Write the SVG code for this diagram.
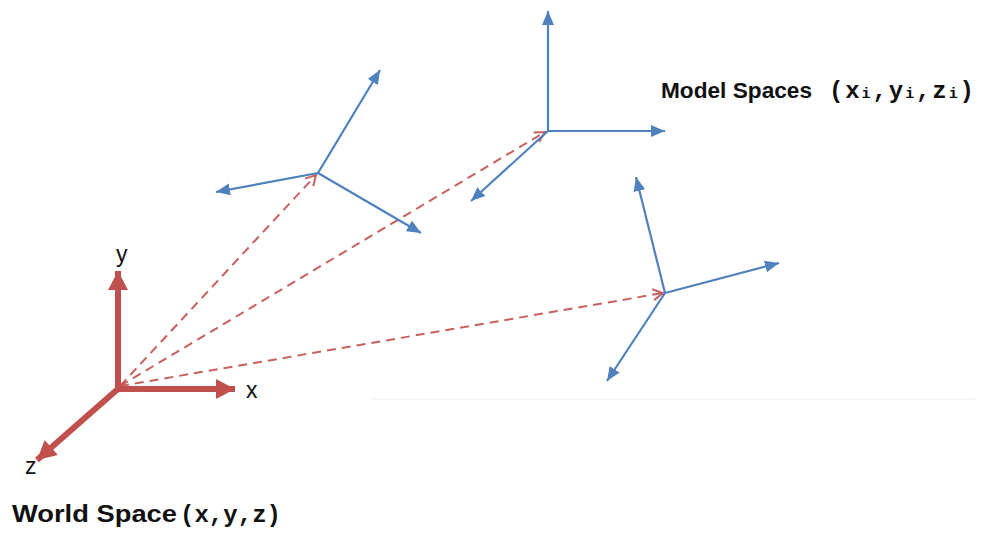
<svg xmlns="http://www.w3.org/2000/svg" width="983" height="555" viewBox="0 0 983 555">
<style>
.world{stroke:#c0504d;stroke-width:6;fill:none;stroke-linecap:butt}
.dash{stroke:#c0504d;stroke-width:2;fill:none;stroke-dasharray:9,6;opacity:0.9}
.blue{stroke:#4f81bd;stroke-width:2.2;fill:none}
.ax{font-family:"Liberation Sans",Arial,sans-serif;font-size:23px;fill:#111}
.lbl{font-family:"Liberation Sans",Arial,sans-serif;font-weight:bold;fill:#111}
.mono{font-family:"Liberation Mono","Courier New",monospace;font-weight:bold}
</style>
<defs>
<marker id="redHead" markerUnits="userSpaceOnUse" markerWidth="24" markerHeight="24" viewBox="0 0 24 24" refX="19" refY="12" orient="auto">
<path d="M0,2 L19,12 L0,22 Z" fill="#c0504d"/>
</marker>
<marker id="blueHead" markerUnits="userSpaceOnUse" markerWidth="16" markerHeight="16" viewBox="0 0 16 16" refX="14" refY="8" orient="auto">
<path d="M0,2 L14,8 L0,14 Z" fill="#4f81bd"/>
</marker>
<marker id="openHead" markerUnits="userSpaceOnUse" markerWidth="14" markerHeight="14" viewBox="0 0 14 14" refX="12" refY="7" orient="auto">
<path d="M2,1.5 L12,7 L2,12.5" fill="none" stroke="#c0504d" stroke-width="2"/>
</marker>
</defs>
<rect width="983" height="555" fill="#ffffff"/>
<line x1="372" y1="399" x2="975" y2="399" stroke="#f6f5ee" stroke-width="1.5"/>

<g id="connectors">
<line class="dash" x1="120" y1="386" x2="316" y2="175" marker-end="url(#openHead)"/>
<line class="dash" x1="120" y1="386" x2="545" y2="132" marker-end="url(#openHead)"/>
<line class="dash" x1="120" y1="386" x2="663" y2="293" marker-end="url(#openHead)"/>
</g>

<g id="world-frame">
<line class="world" x1="118" y1="389" x2="118" y2="271" marker-end="url(#redHead)"/>
<line class="world" x1="115" y1="389" x2="235" y2="389" marker-end="url(#redHead)"/>
<line class="world" x1="119" y1="388" x2="37" y2="460" marker-end="url(#redHead)"/>
<text class="ax" x="116" y="262">y</text>
<text class="ax" x="246" y="398">x</text>
<text class="ax" x="25" y="474">z</text>
</g>

<g id="model-frame-1">
<line class="blue" x1="318" y1="173" x2="380" y2="70" marker-end="url(#blueHead)"/>
<line class="blue" x1="318" y1="173" x2="216" y2="192" marker-end="url(#blueHead)"/>
<line class="blue" x1="318" y1="173" x2="421" y2="233" marker-end="url(#blueHead)"/>
</g>

<g id="model-frame-2">
<line class="blue" x1="548" y1="131" x2="548" y2="11" marker-end="url(#blueHead)"/>
<line class="blue" x1="548" y1="131" x2="665" y2="131" marker-end="url(#blueHead)"/>
<line class="blue" x1="548" y1="131" x2="471" y2="201" marker-end="url(#blueHead)"/>
</g>

<g id="model-frame-3">
<line class="blue" x1="665" y1="293" x2="636" y2="177" marker-end="url(#blueHead)"/>
<line class="blue" x1="665" y1="293" x2="779" y2="263" marker-end="url(#blueHead)"/>
<line class="blue" x1="665" y1="293" x2="607" y2="381" marker-end="url(#blueHead)"/>
</g>

<g id="model-label">
<text class="lbl" x="661" y="98" font-size="22" textLength="151" lengthAdjust="spacingAndGlyphs">Model Spaces</text>
<text class="lbl mono" x="829" y="98" font-size="24" textLength="145" lengthAdjust="spacing">(x<tspan font-size="15">i</tspan>,y<tspan font-size="15">i</tspan>,z<tspan font-size="15">i</tspan>)</text>
</g>

<g id="world-label">
<text class="lbl" x="12" y="522" font-size="23" textLength="165" lengthAdjust="spacingAndGlyphs">World Space</text>
<text class="lbl mono" x="180" y="522" font-size="24" textLength="101" lengthAdjust="spacing">(x,y,z)</text>
</g>
</svg>
